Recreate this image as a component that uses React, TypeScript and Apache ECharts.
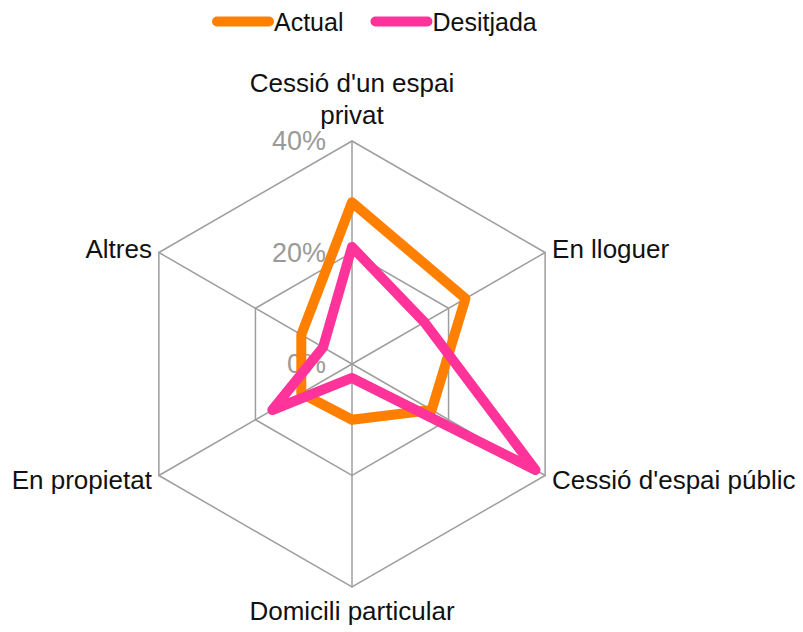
import React, { useEffect, useRef } from "react";
import * as echarts from "echarts";

// Indicators in ECharts order (top, then counter-clockwise)
const categories = [
  "Cessió d'un espai\nprivat",
  "Altres",
  "En propietat",
  "Domicili particular",
  "Cessió d'espai públic",
  "En lloguer",
];
const actualValues = [29, 10.5, 10.5, 10, 16.5, 23.5];
const desitjadaValues = [21, 6, 16.5, 2.5, 38, 15];
const seriesNames = ["Actual", "Desitjada"];
const axisMax = 40;

const FONT = "'Liberation Sans', Arial, Helvetica, sans-serif";

export default function App() {
  const ref = useRef<HTMLDivElement>(null);
  useEffect(() => {
    if (!ref.current) return;
    const chart = echarts.init(ref.current, undefined, { renderer: "svg" });
    chart.setOption({
      animation: false,
      backgroundColor: "#ffffff",
      legend: {
        top: 4,
        left: 207,
        itemWidth: 62,
        itemHeight: 10,
        itemGap: 27,
        icon: "path://M5,0 H57 A5,5 0 0 1 57,10 H5 A5,5 0 0 1 5,0 Z",
        textStyle: { fontFamily: FONT, fontSize: 25, color: "#111", padding: [0, 0, 0, -5] },
        data: seriesNames,
      },
      radar: {
        center: [352, 364],
        radius: 223,
        startAngle: 90,
        shape: "polygon",
        splitNumber: 2,
        nameGap: 8,
        axisName: {
          fontFamily: FONT,
          fontSize: 26,
          color: "#111",
          lineHeight: 32,
          padding: [0, 0, -6, 0],
        },
        axisLine: { lineStyle: { color: "#9e9e9e", width: 1.5 } },
        splitLine: { lineStyle: { color: "#9e9e9e", width: 1.5 } },
        splitArea: { show: false },
        axisLabel: { show: false },
        indicator: categories.map((name, i) => ({
          name,
          min: 0,
          max: axisMax,
          ...(i === 0
            ? {
                axisLabel: {
                  show: true,
                  fontFamily: FONT,
                  fontSize: 27,
                  color: "#9a9a9a",
                  margin: 26,
                  formatter: (v: number) => `${Math.round(v)}%`,
                },
              }
            : {}),
        })),
      },
      series: [
        {
          type: "radar",
          symbol: "none",
          data: [
            {
              name: seriesNames[0],
              value: actualValues,
              itemStyle: { color: "#ff8000" },
              lineStyle: { color: "#ff8000", width: 10, join: "round", cap: "round" },
            },
            {
              name: seriesNames[1],
              value: desitjadaValues,
              itemStyle: { color: "#ff3399" },
              lineStyle: { color: "#ff3399", width: 10, join: "round", cap: "round" },
            },
          ],
        },
      ],
    });
    return () => chart.dispose();
  }, []);
  return (
    <div
      ref={ref}
      style={{ position: "fixed", left: 0, top: 0, width: 803, height: 632 }}
    />
  );
}
